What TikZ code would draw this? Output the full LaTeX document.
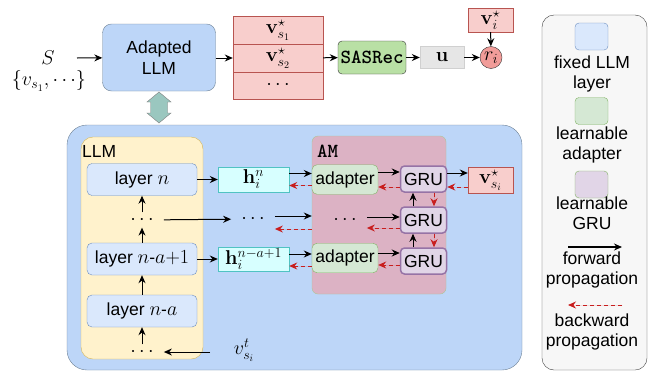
\RequirePackage{fix-cm}
\documentclass[tikz,border=0pt]{standalone}
\usepackage[no-math]{fontspec}
\setsansfont{Liberation Sans}
\DeclareMathSizes{17.5}{20}{14}{10}
\usetikzlibrary{arrows.meta}

\definecolor{panelblue}{RGB}{189,214,248}
\definecolor{panelline}{RGB}{110,130,150}
\definecolor{layerfill}{RGB}{218,232,252}
\definecolor{layerline}{RGB}{108,142,191}
\definecolor{embfill}{RGB}{248,206,204}
\definecolor{embline}{RGB}{184,84,80}
\definecolor{sasfill}{RGB}{185,224,165}
\definecolor{ufill}{RGB}{230,230,230}
\definecolor{uline}{RGB}{208,208,208}
\definecolor{scorefill}{RGB}{241,156,153}
\definecolor{llmfill}{RGB}{255,242,204}
\definecolor{llmline}{RGB}{214,182,86}
\definecolor{hfill}{RGB}{215,255,255}
\definecolor{hline}{RGB}{80,195,195}
\definecolor{amfill}{RGB}{220,178,196}
\definecolor{amline}{RGB}{170,200,150}
\definecolor{adfill}{RGB}{213,232,212}
\definecolor{adline}{RGB}{130,179,102}
\definecolor{grufill}{RGB}{225,213,231}
\definecolor{gruline}{RGB}{150,115,166}
\definecolor{bwdred}{RGB}{200,30,30}
\definecolor{linkfill}{RGB}{154,199,191}
\definecolor{legfill}{RGB}{247,247,247}

\begin{document}
\begin{tikzpicture}[x=1pt,y=-1pt,
  font=\sffamily\fontsize{17.5}{21}\selectfont,
  box/.style={draw,inner sep=0pt,align=center},
  emb/.style={box,fill=embfill,draw=embline,minimum width=90pt,minimum height=27.5pt},
  layer/.style={box,rounded corners=5pt,fill=layerfill,draw=layerline,minimum width=110pt,minimum height=32pt},
  hbox/.style={box,fill=hfill,draw=hline,minimum width=71pt,minimum height=24.5pt},
  adapter/.style={box,rounded corners=5pt,fill=adfill,draw=adline,minimum width=66pt,minimum height=29.5pt},
  gru/.style={box,rounded corners=4pt,fill=grufill,draw=gruline,line width=1.5pt,minimum width=46pt,minimum height=26pt},
  key/.style={box,rounded corners=4pt,minimum width=33pt,minimum height=27pt},
  keytext/.style={align=center,inner sep=0pt,font=\sffamily\fontsize{17.5}{20}\selectfont},
  dots/.style={inner xsep=10pt,inner ysep=3pt},
  fwd/.style={-{Stealth[length=8pt,width=7pt]},line width=1pt},
  bwd/.style={-{Stealth[length=8pt,width=7pt]},line width=1pt,dash pattern=on 4pt off 3pt,draw=bwdred,fill=bwdred}]

\useasboundingbox (0,0) rectangle (652,375);

\node (S) at (48,58) {$S$};
\node (seq) at (49,81) {$\{v_{s_1},\cdots\}$};
\coordinate (in) at (77,58);
\node[box,rounded corners=9pt,fill=panelblue,draw=panelline,minimum width=113pt,minimum height=67pt] (adapted) at (159,57.5) {Adapted\\LLM};
\draw[fwd] (in) -- (adapted);

\node[emb] (vs1) at (278,30) {$\mathbf{v}^{\star}_{s_1}$};
\node[emb] (vs2) at (278,58) {$\mathbf{v}^{\star}_{s_2}$};
\node[emb] (vsd) at (278,85.5) {$\cdots$};
\draw[fwd] (adapted.east |- vs2) -- (vs2);

\node[box,rounded corners=4pt,fill=sasfill,draw=black!80,minimum width=68pt,minimum height=33pt] (sasrec) at (372,57.5) {\ttfamily\bfseries\fontsize{20}{20}\selectfont SASRec};
\node[box,fill=ufill,draw=uline,minimum width=44pt,minimum height=22pt] (u) at (442,57.5) {$\mathbf{u}$};
\node[box,circle,fill=scorefill,draw=black!80,minimum size=22pt] (ri) at (491,57.5) {$r_i$};
\node[emb,minimum width=45pt,minimum height=24pt] (vi) at (490.5,20) {$\mathbf{v}^{\star}_i$};
\draw[fwd] (vs2) -- (sasrec);
\draw[fwd] (sasrec) -- (u);
\draw[fwd] (u) -- (ri);
\draw[fwd] (vi) -- (ri);

\draw[fill=linkfill,draw=black!50] (159,92) -- (171,102) -- (167.5,102) -- (167.5,113) -- (171,113) -- (159,123)
  -- (147,113) -- (150.5,113) -- (150.5,102) -- (147,102) -- cycle;

\node[box,rounded corners=20pt,fill=panelblue,draw=panelline,minimum width=455pt,minimum height=245pt] (panel) at (294.5,247.5) {};

\node[box,rounded corners=12pt,fill=llmfill,draw=llmline,minimum width=122pt,minimum height=222pt] (llm) at (142,248) {};
\node[anchor=west,inner sep=0pt] (llmlabel) at (82,151) {LLM};
\node[layer] (ln) at (142,179.5) {layer $n$};
\node[dots] (ldots) at (142,220) {$\cdots$};
\node[layer] (lna1) at (142,259) {layer $n$-$a{+}1$};
\node[layer] (lna) at (142,311) {layer $n$-$a$};
\node[dots] (bdots) at (142,352) {$\cdots$};
\node (vt) at (244,350) {$v_{s_i}^t$};
\coordinate (vtin) at (210,352);
\draw[fwd] (vtin) -- (bdots);
\draw[fwd] (bdots) -- (lna);
\draw[fwd] (lna) -- (lna1);
\draw[fwd] (lna1) -- (ldots);
\draw[fwd] (ldots) -- (ln);

\node[hbox] (hn) at (253.5,179.5) {$\mathbf{h}_i^{n}$};
\node[dots] (mdots) at (253,219) {$\cdots$};
\node[hbox] (hna) at (253.5,259) {$\mathbf{h}_i^{n-a+1}$};
\draw[fwd] (ln) -- (hn);
\draw[fwd] (ldots) -- (mdots);
\draw[fwd] (lna1) -- (hna);

\node[box,rounded corners=6pt,fill=amfill,draw=amline,minimum width=134pt,minimum height=158pt] (am) at (379,215) {};
\node[anchor=west,inner sep=0pt] (amlabel) at (317,151) {\ttfamily\bfseries\fontsize{20}{20}\selectfont AM};
\node[adapter] (ad1) at (345,179.5) {adapter};
\node[dots] (amdots) at (345,220) {$\cdots$};
\node[adapter] (ad2) at (345,258) {adapter};
\node[gru] (gru1) at (423.5,179) {GRU};
\node[gru] (gru2) at (423.5,220) {GRU};
\node[gru] (gru3) at (423.5,261) {GRU};
\node[emb,minimum width=45pt,minimum height=26pt] (vsi) at (490.5,180) {$\mathbf{v}^{\star}_{s_i}$};

\draw[fwd] ([yshift=6pt]hn.east) -- ([yshift=6pt]hn.east -| ad1.west);
\draw[bwd] ([yshift=-6pt]hn.east -| ad1.west) -- ([yshift=-6pt]hn.east);
\draw[fwd] ([yshift=3pt]mdots.east) -- ([yshift=3pt]mdots.east -| am.west);
\draw[bwd] ([yshift=-10pt]mdots.east -| am.west) -- ([yshift=-10pt]mdots.east);
\draw[fwd] ([yshift=5pt]hna.east) -- ([yshift=5pt]hna.east -| ad2.west);
\draw[bwd] ([yshift=-7pt]hna.east -| ad2.west) -- ([yshift=-7pt]hna.east);

\draw[fwd] ([yshift=7.5pt]ad1.east) -- ([yshift=7.5pt]ad1.east -| gru1.west);
\draw[bwd] ([yshift=-7.5pt]ad1.east -| gru1.west) -- ([yshift=-7.5pt]ad1.east);
\draw[fwd] ([yshift=3pt]amdots.east) -- ([yshift=3pt]amdots.east -| gru2.west);
\draw[bwd] ([yshift=-8pt]amdots.east -| gru2.west) -- ([yshift=-8pt]amdots.east);
\draw[fwd] ([yshift=5pt]ad2.east) -- ([yshift=5pt]ad2.east -| gru3.west);
\draw[bwd] ([yshift=-7pt]ad2.east -| gru3.west) -- ([yshift=-7pt]ad2.east);

\draw[fwd] ([xshift=-10.5pt]gru3.north) -- ([xshift=-10.5pt]gru2.south);
\draw[fwd] ([xshift=-10.5pt]gru2.north) -- ([xshift=-10.5pt]gru1.south);
\draw[bwd] ([xshift=10.5pt]gru1.south) -- ([xshift=10.5pt]gru2.north);
\draw[bwd] ([xshift=10.5pt]gru2.south) -- ([xshift=10.5pt]gru3.north);
\draw[fwd] ([yshift=6pt]gru1.east) -- ([yshift=6pt]gru1.east -| vsi.west);
\draw[bwd] ([yshift=-8pt]gru1.east -| vsi.west) -- ([yshift=-8pt]gru1.east);

\node[box,rounded corners=12pt,fill=legfill,draw=black!75,minimum width=105pt,minimum height=355pt] (legend) at (594.5,192.5) {};
\node[key,fill=layerfill,draw=layerline] (kfixed) at (591.5,36.5) {};
\node[keytext] (tfixed) at (592,74) {fixed LLM\\layer};
\node[key,fill=adfill,draw=adline] (kadapter) at (591.5,111) {};
\node[keytext] (tadapter) at (592,145) {learnable\\adapter};
\node[key,fill=grufill,draw=adline] (kgru) at (591.5,184.5) {};
\node[keytext] (tgru) at (592,213) {learnable\\GRU};
\coordinate (fwdl) at (568,247);
\coordinate (fwdr) at (622,247);
\draw[fwd,line width=1.6pt] (fwdl) -- (fwdr);
\node[keytext] (tfwd) at (592,269.5) {forward\\propagation};
\coordinate (bwdl) at (568,305);
\coordinate (bwdr) at (622,305);
\draw[bwd] (bwdr) -- (bwdl);
\node[keytext] (tbwd) at (592,331.5) {backward\\propagation};

\end{tikzpicture}
\end{document}
